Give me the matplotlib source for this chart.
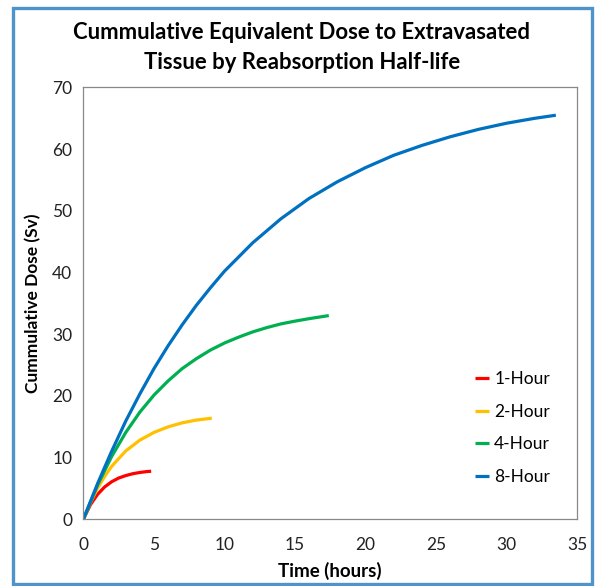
import matplotlib.pyplot as plt
from matplotlib.patches import Rectangle

# values (time in hours, dose in Sv)
t_1h = [0, 0.5, 1, 1.5, 2, 2.5, 3, 3.5, 4, 4.5, 4.8]
dose_1h = [0, 2.35, 4.0, 5.2, 6.05, 6.65, 7.05, 7.35, 7.55, 7.7, 7.75]

t_2h = [0, 0.5, 1, 1.5, 2, 3, 4, 5, 6, 7, 8, 9.1]
dose_2h = [0, 2.7, 5.0, 6.9, 8.55, 11.05, 12.8, 14.05, 14.95, 15.6, 16.05, 16.35]

t_4h = [0, 1, 2, 3, 4, 5, 6, 7, 8, 9, 10, 11, 12, 13, 14, 15, 16, 17.4]
dose_4h = [0, 5.5, 10.15, 14.05, 17.35, 20.1, 22.4, 24.4, 26.0, 27.4, 28.55,
           29.5, 30.35, 31.05, 31.65, 32.1, 32.5, 33.0]

t_8h = [0, 1, 2, 3, 4, 5, 6, 7, 8, 9, 10, 12, 14, 16, 18, 20, 22, 24, 26, 28, 30, 32, 33.5]
dose_8h = [0, 5.75, 11.0, 15.9, 20.3, 24.4, 28.1, 31.5, 34.65, 37.5, 40.2, 44.8,
           48.7, 52.0, 54.7, 57.0, 59.0, 60.6, 62.0, 63.2, 64.2, 65.0, 65.5]

labels = ["1-Hour", "2-Hour", "4-Hour", "8-Hour"]
colors = ["#FF0000", "#FFC000", "#00B050", "#0070C0"]

plt.rcParams['font.family'] = ['Lato', 'DejaVu Sans']

fig = plt.figure(figsize=(5.95, 5.86), dpi=100)
ax = fig.add_axes([0.1403, 0.1143, 0.8294, 0.7364])

series = [(t_1h, dose_1h), (t_2h, dose_2h), (t_4h, dose_4h), (t_8h, dose_8h)]
for (t, d), lab, c in zip(series, labels, colors):
    ax.plot(t, d, color=c, lw=2.3, label=lab, solid_capstyle='butt')

ax.set_xlim(0, 35)
ax.set_ylim(0, 70)
ax.set_xticks(range(0, 36, 5))
ax.set_yticks(range(0, 71, 10))
ax.tick_params(length=0, labelsize=12.5, colors='#222222')
ax.tick_params(axis='x', pad=13)
ax.tick_params(axis='y', pad=8)
for s in ax.spines.values():
    s.set_color('#888888')
    s.set_linewidth(0.9)

ax.set_xlabel("Time (hours)", fontsize=13.5, fontweight='bold', labelpad=6)
ax.set_ylabel("Cummulative Dose (Sv)", fontsize=12.5, fontweight='bold', labelpad=8)

fig.text(0.507, 0.919, "Cummulative Equivalent Dose to Extravasated\nTissue by Reabsorption Half-life",
         ha='center', va='center', fontsize=15.9, fontweight='bold', linespacing=1.55)

leg = ax.legend(loc='center left', bbox_to_anchor=(0.762, 0.211), frameon=False,
                fontsize=12.5, handlelength=0.8, handletextpad=0.3, labelspacing=0.95)

fig.patches.append(Rectangle((13 / 595, 2.5 / 586), 579 / 595, 576 / 586,
                             transform=fig.transFigure, fill=False,
                             edgecolor='#4F93CB', linewidth=2.4))

fig.savefig("out.png", dpi=100)
